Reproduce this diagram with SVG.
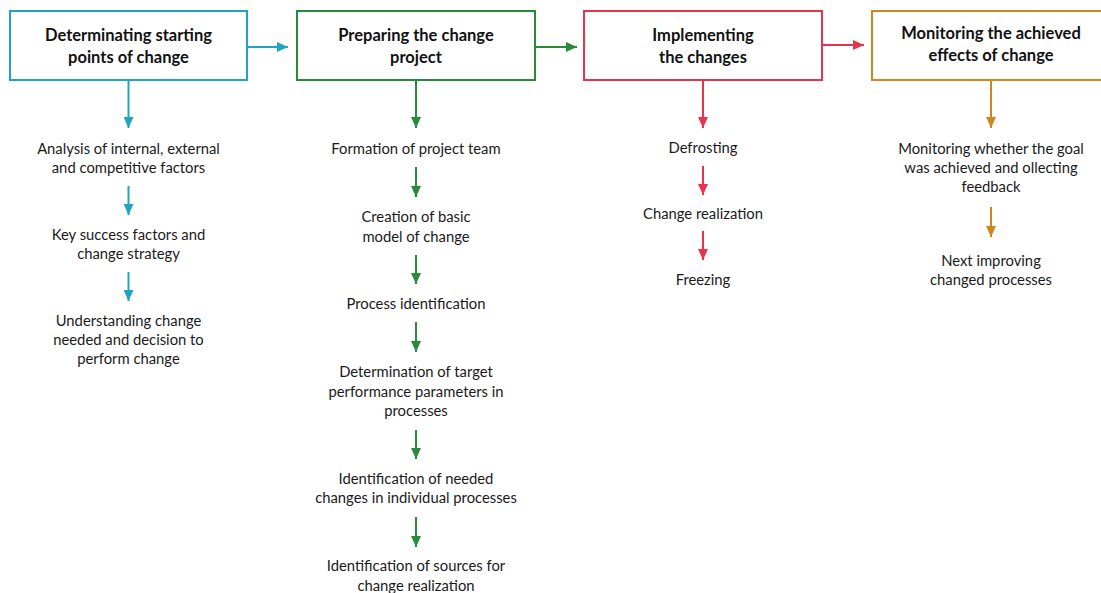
<svg xmlns="http://www.w3.org/2000/svg" width="1101" height="593" viewBox="0 0 1101 593">
  <style>
    .box { fill: #ffffff; stroke-width: 2; }
    .title { font-family: Lato, "Open Sans", sans-serif; font-weight: bold; font-size: 16.5px; fill: #111111; text-anchor: middle; }
    .item { font-family: Lato, "Open Sans", sans-serif; font-size: 14.8px; fill: #1a1a1a; text-anchor: middle; }
    .teal { stroke: #20a5c0; }
    .green { stroke: #2a8a3c; }
    .red { stroke: #e6344f; }
    .orange { stroke: #d2861e; }
    .conn line { stroke-width: 2; fill: none; }
    .conn .teal { marker-end: url(#headTeal); }
    .conn .green { marker-end: url(#headGreen); }
    .conn .red { marker-end: url(#headRed); }
    .conn .orange { marker-end: url(#headOrange); }
  </style>
  <defs>
    <marker id="headTeal" markerUnits="userSpaceOnUse" markerWidth="11" markerHeight="10" refX="11" refY="5" orient="auto"><path d="M0,0 L11,5 L0,10 z" fill="#20a5c0"/></marker>
    <marker id="headGreen" markerUnits="userSpaceOnUse" markerWidth="11" markerHeight="10" refX="11" refY="5" orient="auto"><path d="M0,0 L11,5 L0,10 z" fill="#2a8a3c"/></marker>
    <marker id="headRed" markerUnits="userSpaceOnUse" markerWidth="11" markerHeight="10" refX="11" refY="5" orient="auto"><path d="M0,0 L11,5 L0,10 z" fill="#e6344f"/></marker>
    <marker id="headOrange" markerUnits="userSpaceOnUse" markerWidth="11" markerHeight="10" refX="11" refY="5" orient="auto"><path d="M0,0 L11,5 L0,10 z" fill="#d2861e"/></marker>
  </defs>
  <rect width="1101" height="593" fill="#ffffff"/>

  <!-- stage boxes -->
  <g id="stage-starting-points">
    <rect class="box teal" x="10" y="11" width="237" height="69"/>
    <text class="title" x="128.5" y="41">Determinating starting</text>
    <text class="title" x="128.5" y="63">points of change</text>
  </g>
  <g id="stage-preparing">
    <rect class="box green" x="297" y="11" width="238" height="69"/>
    <text class="title" x="416" y="41">Preparing the change</text>
    <text class="title" x="416" y="63">project</text>
  </g>
  <g id="stage-implementing">
    <rect class="box red" x="584" y="11" width="238" height="69"/>
    <text class="title" x="703" y="41">Implementing</text>
    <text class="title" x="703" y="63">the changes</text>
  </g>
  <g id="stage-monitoring">
    <rect class="box orange" x="872" y="11" width="238" height="69"/>
    <text class="title" x="991" y="39">Monitoring the achieved</text>
    <text class="title" x="991" y="61">effects of change</text>
  </g>

  <!-- step items, column 1 -->
  <g id="step-analysis">
    <text class="item" x="128.5" y="154">Analysis of internal, external</text>
    <text class="item" x="128.5" y="173">and competitive factors</text>
  </g>
  <g id="step-key-factors">
    <text class="item" x="128.5" y="240">Key success factors and</text>
    <text class="item" x="128.5" y="259">change strategy</text>
  </g>
  <g id="step-understanding">
    <text class="item" x="128.5" y="326">Understanding change</text>
    <text class="item" x="128.5" y="345">needed and decision to</text>
    <text class="item" x="128.5" y="364">perform change</text>
  </g>

  <!-- step items, column 2 -->
  <g id="step-team">
    <text class="item" x="416" y="154">Formation of project team</text>
  </g>
  <g id="step-model">
    <text class="item" x="416" y="222">Creation of basic</text>
    <text class="item" x="416" y="242">model of change</text>
  </g>
  <g id="step-process-id">
    <text class="item" x="416" y="309">Process identification</text>
  </g>
  <g id="step-parameters">
    <text class="item" x="416" y="377">Determination of target</text>
    <text class="item" x="416" y="397">performance parameters in</text>
    <text class="item" x="416" y="416">processes</text>
  </g>
  <g id="step-needed-changes">
    <text class="item" x="416" y="484">Identification of needed</text>
    <text class="item" x="416" y="503">changes in individual processes</text>
  </g>
  <g id="step-sources">
    <text class="item" x="416" y="571">Identification of sources for</text>
    <text class="item" x="416" y="591">change realization</text>
  </g>

  <!-- step items, column 3 -->
  <g id="step-defrosting">
    <text class="item" x="703" y="153">Defrosting</text>
  </g>
  <g id="step-realization">
    <text class="item" x="703" y="219">Change realization</text>
  </g>
  <g id="step-freezing">
    <text class="item" x="703" y="285">Freezing</text>
  </g>

  <!-- step items, column 4 -->
  <g id="step-goal-check">
    <text class="item" x="991" y="154">Monitoring whether the goal</text>
    <text class="item" x="991" y="173">was achieved and ollecting</text>
    <text class="item" x="991" y="192">feedback</text>
  </g>
  <g id="step-next">
    <text class="item" x="991" y="266">Next improving</text>
    <text class="item" x="991" y="285">changed processes</text>
  </g>

  <!-- connectors -->
  <g id="connectors" class="conn">
    <line class="teal" x1="247" y1="47" x2="288" y2="47"/>
    <line class="green" x1="535" y1="47" x2="577" y2="47"/>
    <line class="red" x1="822" y1="45" x2="864" y2="45"/>

    <line class="teal" x1="128.5" y1="80" x2="128.5" y2="128"/>
    <line class="teal" x1="128.5" y1="186" x2="128.5" y2="215"/>
    <line class="teal" x1="128.5" y1="272" x2="128.5" y2="301"/>

    <line class="green" x1="416" y1="80" x2="416" y2="128"/>
    <line class="green" x1="416" y1="167" x2="416" y2="197"/>
    <line class="green" x1="416" y1="255" x2="416" y2="284"/>
    <line class="green" x1="416" y1="322" x2="416" y2="352"/>
    <line class="green" x1="416" y1="430" x2="416" y2="459"/>
    <line class="green" x1="416" y1="517" x2="416" y2="547"/>

    <line class="red" x1="703" y1="80" x2="703" y2="128"/>
    <line class="red" x1="703" y1="166" x2="703" y2="195"/>
    <line class="red" x1="703" y1="231" x2="703" y2="260"/>

    <line class="orange" x1="991" y1="80" x2="991" y2="128"/>
    <line class="orange" x1="991" y1="207" x2="991" y2="237"/>
  </g>
</svg>
